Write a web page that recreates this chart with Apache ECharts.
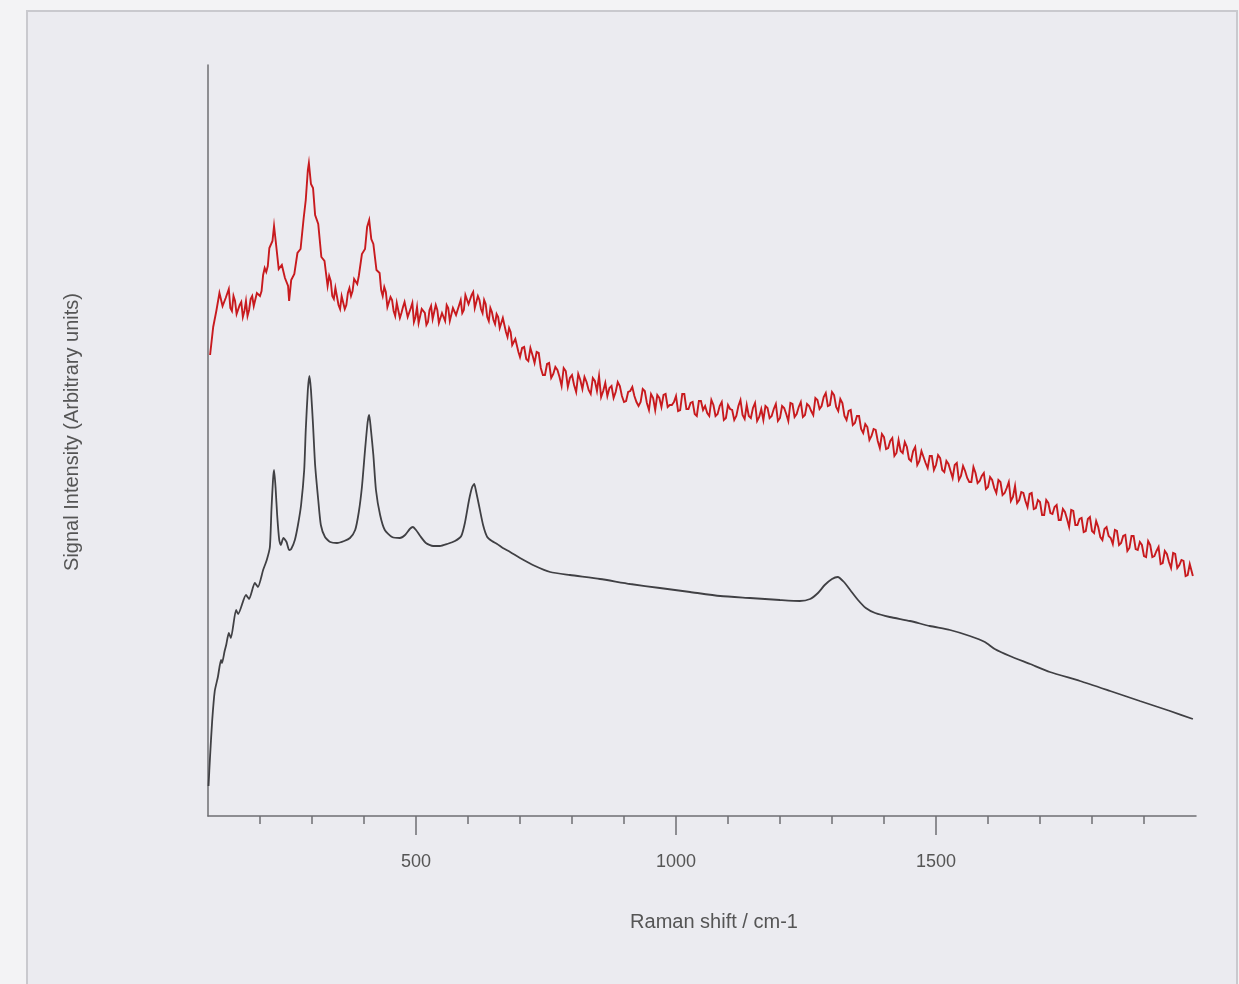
<!DOCTYPE html>
<html>
<head>
<meta charset="utf-8">
<script src="https://cdn.jsdelivr.net/npm/echarts@6/dist/echarts.min.js"></script>
<style>
html,body{margin:0;padding:0;background:#f3f3f5;}
#c{width:1239px;height:984px;}
</style>
</head>
<body>
<div id="c"></div>
<script>
// Raman shift (cm-1) tick labels along the x axis
const tickLabels = ['100','200','300','400','500','600','700','800','900','1000','1100','1200','1300','1400','1500','1600','1700','1800','1900','2000'];

// Lower (black) spectrum
const blackShift = [101,104,108,113,119,125,127,132,135,140,144,154,158,173,179,190,196,206,213,219,222,225,227,230,233,237,240,245,251,256,260,267,273,279,285,288,292,295,298,302,306,312,317,325,335,348,362,373,383,390,396,402,407,410,413,418,423,431,440,454,469,479,488,494,500,508,519,533,546,560,575,587,594,602,608,612,615,621,629,637,646,656,667,681,700,729,758,796,854,912,969,1027,1085,1142,1200,1238,1258,1273,1286,1300,1311,1323,1335,1350,1365,1383,1411,1450,1488,1527,1565,1594,1613,1642,1681,1719,1777,1835,1892,1950,1994];
const blackIntensity = [30,60,95,125,139,156,153,165,171,183,178,206,202,221,217,233,229,246,256,269,306,336,346,328,301,276,271,278,274,266,267,276,291,311,346,386,426,440,426,391,351,316,291,279,274,273,275,278,286,304,329,366,394,401,388,361,326,301,286,279,278,281,287,289,286,280,273,270,270,272,275,280,293,316,329,332,326,311,291,279,275,272,268,264,258,250,244,241,237,232,228,224,220,218,216,215,217,223,231,237,239,234,226,216,208,203,199,195,190,186,180,174,167,160,152,144,135,125,115,105,97];

// Upper (red) spectrum, main readings
const redShift = [104,110,116,122,128,134,140,146,152,158,164,170,176,182,188,194,200,206,212,218,224,227,230,236,242,248,254,256,260,266,272,278,284,288,292,294,298,302,306,312,318,324,330,336,342,348,354,360,366,372,378,384,390,396,402,406,410,414,418,424,430,436,442,448,454,460,466,472,478,484,490,496,502,508,514,520,526,532,538,544,550,556,562,568,574,580,586,592,598,604,610,616,622,628,634,640,646,652,658,664,670,676,682,688,694,700,
708,716,724,732,740,748,756,764,772,780,788,796,804,812,820,828,836,844,852,860,868,876,884,892,900,908,916,924,932,940,948,956,964,972,980,988,996,1004,1012,1020,1028,1036,1044,1052,1060,1068,1076,1084,1092,1100,1108,1116,1124,1132,1140,1148,1156,1164,1172,1180,1188,1196,1204,1212,1220,1228,1236,1244,1252,1260,1268,1276,1284,1292,1300,1308,1316,1324,1332,1340,1348,1356,1364,1372,1380,1388,1396,1404,1412,1420,1428,1436,1444,1452,1460,1468,1476,1484,1492,1500,1508,1516,1524,1532,1540,1548,1556,1564,1572,1580,1588,1596,1604,1612,1620,1628,1636,1644,1652,1660,1668,1676,1684,1692,1700,1708,1716,1724,1732,1740,1748,1756,1764,1772,1780,1788,1796,1804,1812,1820,1828,1836,1844,1852,1860,1868,1876,1884,1892,1900,1908,1916,1924,1932,1940,1948,1956,1964,1972,1980,1988,1994];
const redIntensity = [461,489,505,523,510,518,527,505,515,500,514,505,500,517,510,523,520,541,544,568,575,590,576,547,551,538,530,515,536,542,563,567,598,616,646,653,632,628,601,592,559,555,530,535,517,526,507,519,511,528,525,539,540,562,567,589,596,577,572,546,543,520,524,508,516,500,512,503,514,499,508,494,509,500,509,491,506,497,511,493,503,495,508,495,506,501,516,506,520,512,524,510,516,503,512,495,504,492,499,489,496,479,484,472,477,459,
469,455,461,464,448,441,453,442,446,430,445,438,431,442,427,434,422,435,440,425,420,430,424,430,414,424,429,414,414,425,406,418,421,409,422,411,414,405,422,407,413,402,415,406,403,416,400,410,396,411,406,400,416,397,400,408,395,407,410,398,407,395,410,402,413,399,409,399,412,405,418,407,419,410,424,409,417,400,405,391,400,387,392,376,387,375,382,367,375,360,376,363,369,355,369,355,359,348,360,351,358,344,352,338,353,340,345,334,349,333,340,327,339,328,336,321,328,315,330,316,323,309,323,308,314,301,313,302,311,296,304,289,305,291,298,285,299,283,289,276,289,278,286,271,280,265,280,267,274,260,275,259,265,252,265,254,263,248,256,240,252,240];

// Upper (red) spectrum, in-between readings of the noisy trace
const redShiftExtra = [125,131,137,143,149,155,161,167,173,179,185,191,197,203,209,215,333,339,345,351,357,363,369,375,381,387,433,439,445,451,457,463,469,475,481,487,493,499,505,511,517,523,529,535,541,547,553,559,565,571,577,583,589,595,601,607,613,619,625,631,637,643,649,655,661,667,673,679,685,691,697,704,
712,720,728,736,744,752,760,768,776,784,792,800,808,816,824,832,840,848,856,864,872,880,888,896,904,912,920,928,936,944,952,960,968,976,984,992,1000,1008,1016,1024,1032,1040,1048,1056,1064,1072,1080,1088,1096,1104,1112,1120,1128,1136,1144,1152,1160,1168,1176,1184,1192,1200,1208,1216,1224,1232,1240,1248,1256,1264,1272,1280,1288,1296,1304,1312,1320,1328,1336,1344,1352,1360,1368,1376,1384,1392,1400,1408,1416,1424,1432,1440,1448,1456,1464,1472,1480,1488,1496,1504,1512,1520,1528,1536,1544,1552,1560,1568,1576,1584,1592,1600,1608,1616,1624,1632,1640,1648,1656,1664,1672,1680,1688,1696,1704,1712,1720,1728,1736,1744,1752,1760,1768,1776,1784,1792,1800,1808,1816,1824,1832,1840,1848,1856,1864,1872,1880,1888,1896,1904,1912,1920,1928,1936,1944,1952,1960,1968,1976,1984];
const redIntensityExtra = [523,508,518,508,520,502,511,499,515,506,520,509,524,525,548,550,540,520,528,511,520,507,523,520,537,532,526,529,509,519,505,513,498,509,513,499,513,499,493,507,503,494,510,497,506,492,504,511,495,508,501,511,503,521,512,521,508,520,507,516,499,508,496,502,488,498,484,488,471,477,464,468,
457,468,453,463,441,452,438,449,439,448,429,441,424,436,439,426,438,425,419,433,428,418,434,420,415,425,420,410,427,413,422,406,418,421,409,411,420,406,422,407,414,400,415,410,400,411,402,414,398,407,396,410,401,411,398,413,399,396,408,400,412,398,408,395,412,402,414,401,410,401,416,410,423,411,421,405,413,396,406,393,400,383,389,380,386,368,379,368,378,363,365,374,357,365,351,365,353,360,346,361,346,355,345,351,336,350,338,334,343,335,343,329,336,323,334,323,334,319,313,324,315,322,307,316,301,316,303,309,296,307,297,306,291,297,284,297,285,295,279,287,280,272,285,273,281,268,280,266,271,259,271,260,269,253,262,248,262,251,255,241];

const zip = (xs, ys) => xs.map((x, i) => [x, ys[i]]);
const redData = zip(redShift, redIntensity).concat(zip(redShiftExtra, redIntensityExtra)).sort((a, b) => a[0] - b[0]);

const chart = echarts.init(document.getElementById('c'), null, {renderer: 'canvas'});
const axisCol = '#6f6f73';
const font = 'Liberation Sans, Arial, sans-serif';
const majorInterval = (i, v) => (+v) % 500 === 0 && v !== '2000';
const minorInterval = (i, v) => (+v) % 500 !== 0 && v !== '100';

chart.setOption({
  backgroundColor: '#f3f3f5',
  animation: false,
  graphic: [{
    type: 'rect', left: 26, top: 10, z: -10,
    shape: {width: 1210, height: 1000},
    style: {fill: '#ebebf0', stroke: '#c9c9ce', lineWidth: 2}
  }],
  grid: {left: 208, right: 43, top: 65, bottom: 168, containLabel: false},
  xAxis: [{
    type: 'value', min: 100, max: 2000, interval: 100,
    name: 'Raman shift / cm-1', nameLocation: 'middle', nameGap: 96,
    nameTextStyle: {fontFamily: font, fontSize: 20, color: '#555', padding: [0, 0, 0, 24]},
    axisLine: {show: true, lineStyle: {color: axisCol, width: 1.5}},
    axisTick: {show: false}, axisLabel: {show: false}, splitLine: {show: false}
  }, {
    type: 'category', data: tickLabels, boundaryGap: false, position: 'bottom',
    axisLine: {show: false},
    axisTick: {show: true, interval: minorInterval, length: 8, lineStyle: {color: axisCol, width: 1.5}},
    axisLabel: {show: false}, splitLine: {show: false}
  }, {
    type: 'category', data: tickLabels, boundaryGap: false, position: 'bottom',
    axisLine: {show: false},
    axisTick: {show: true, interval: majorInterval, length: 19, lineStyle: {color: axisCol, width: 1.5}},
    axisLabel: {show: true, interval: majorInterval, margin: 37, fontFamily: font, fontSize: 18, color: '#555'},
    splitLine: {show: false}
  }],
  yAxis: {
    type: 'value', min: 0, max: 751,
    name: 'Signal Intensity (Arbitrary units)', nameLocation: 'middle', nameGap: 126, nameRotate: 90,
    nameTextStyle: {fontFamily: font, fontSize: 20, color: '#555', padding: [0, 0, 0, 17]},
    axisLine: {show: true, lineStyle: {color: axisCol, width: 1.5}},
    axisTick: {show: false}, axisLabel: {show: false}, splitLine: {show: false}
  },
  series: [{
    type: 'line', name: 'red', data: redData, showSymbol: false, symbol: 'none',
    lineStyle: {color: '#c81a1e', width: 1.9, join: 'miter'}, z: 3
  }, {
    type: 'line', name: 'black', data: zip(blackShift, blackIntensity), showSymbol: false, symbol: 'none',
    smooth: 0.2,
    lineStyle: {color: '#404044', width: 1.8}, z: 2
  }]
});
</script>
</body>
</html>
